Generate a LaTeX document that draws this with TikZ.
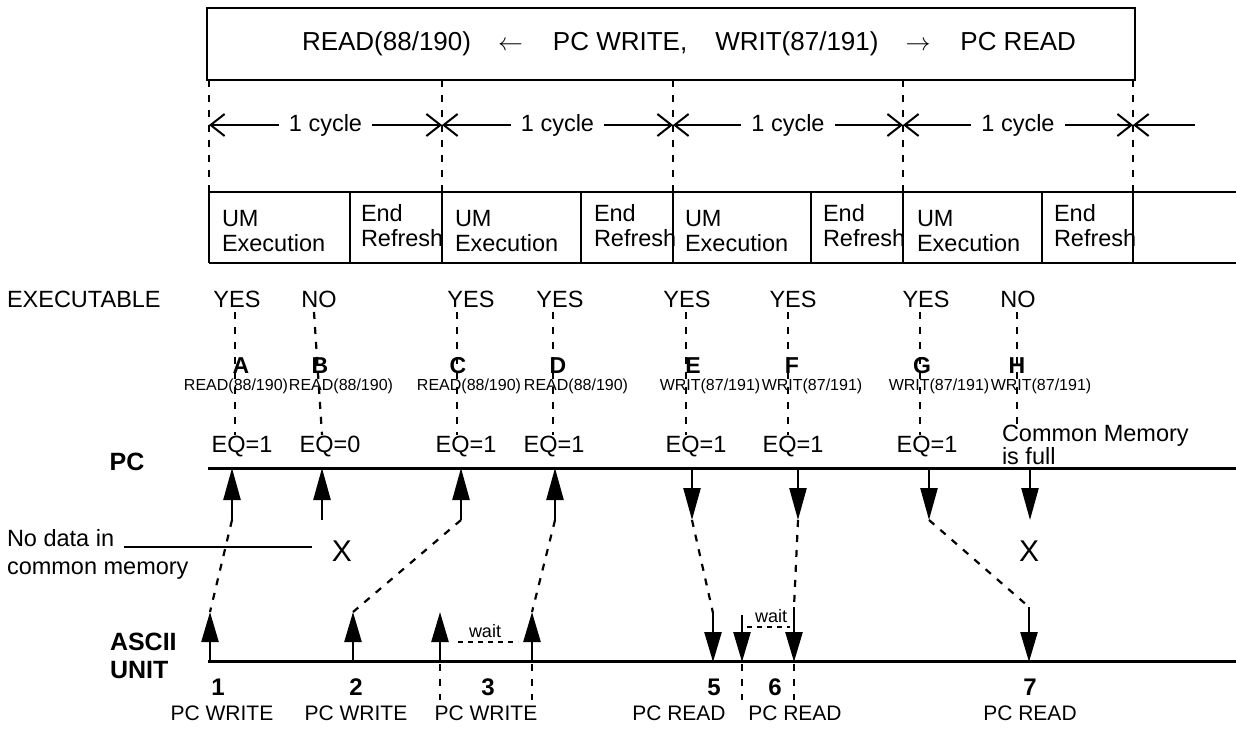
\documentclass[tikz,border=0pt]{standalone}
\usepackage{fontspec}
\setmainfont{Liberation Sans}
\usetikzlibrary{arrows.meta}
\begin{document}
\begin{tikzpicture}[x=1pt,y=-1pt,
  every node/.style={inner sep=0pt, outer sep=0pt},
  txt/.style={font=\fontsize{23.5}{25}\selectfont},
  toptxt/.style={font=\fontsize{26}{28}\selectfont},
  sm/.style={font=\fontsize{16}{18}\selectfont},
  waittxt/.style={font=\fontsize{18}{20}\selectfont},
  letter/.style={font=\fontsize{23}{25}\selectfont\bfseries},
  num/.style={font=\fontsize{24}{26}\selectfont\bfseries},
  lbl/.style={font=\fontsize{25}{28}\selectfont\bfseries},
  btm/.style={font=\fontsize{21}{24}\selectfont},
  xmark/.style={font=\fontsize{30}{30}\selectfont},
  heavy/.style={line width=2.5pt},
  dsh/.style={line width=2.2pt, dash pattern=on 7pt off 8pt},
  wdsh/.style={line width=1.8pt, dash pattern=on 5pt off 5pt},
  cyc/.style={line width=2pt, {Straight Barb[length=14pt,width=22pt]}-{Straight Barb[length=14pt,width=22pt]}},
  cycl/.style={line width=2pt, {Straight Barb[length=14pt,width=22pt]}-},
  arr/.style={line width=2.5pt, -{Triangle[length=32pt,width=17pt]}},
  aarr/.style={line width=2.5pt, -{Triangle[length=30pt,width=17pt]}},
]
\useasboundingbox (0,0) rectangle (1236,728);

% top box
\node[draw, line width=2.5pt, anchor=north west, minimum width=928pt, minimum height=72pt] (box) at (207,8) {};
\node[toptxt, anchor=west] (boxtxt) at (302,44) {READ(88/190)\hspace{27pt}$\leftarrow$\hspace{30pt}PC WRITE,\hspace{28pt}WRIT(87/191)\hspace{27pt}$\rightarrow$\hspace{30pt}PC READ};

% cycle boundaries
\foreach \i/\x in {0/209,1/442,2/673,3/903,4/1133}{
  \coordinate (t\i) at (\x,80);
  \coordinate (b\i) at (\x,187);
  \coordinate (c\i) at (\x,125);
  \draw[dsh] (t\i) -- (b\i);
}
\coordinate (c5) at (1195,125);
\foreach \i/\j in {0/1,1/2,2/3,3/4}{
  \draw[cyc] (c\i) -- node[txt, fill=white, inner xsep=10pt, inner ysep=2pt] {1 cycle} (c\j);
}
\draw[cycl] (c4) -- (c5);

% table
\draw[heavy] (209,192) -- (1236,192);
\draw[heavy] (209,263) -- (1236,263);
\foreach \x in {209,442,673,903,1133}{ \draw[heavy] (\x,187) -- (\x,263); }
\foreach \x in {350,581,811,1042}{ \draw[heavy] (\x,192) -- (\x,263); }
\foreach \x in {222,455,685,917}{
  \node[txt, anchor=west, align=left] at (\x,231) {UM\\Execution};
}
\foreach \x in {361,594,823,1054}{
  \node[txt, anchor=west, align=left] at (\x,226) {End\\Refresh};
}

% executable row
\node[txt, anchor=west] (exe) at (7,299) {EXECUTABLE};
\foreach \n/\lu/\ll/\yx/\yt/\lx/\lb/\bx/\ex/\et in {
  A/235/235/237/YES/241/READ(88\slash 190)/236/242/EQ=1,
  B/314/322/319/NO/320/READ(88\slash 190)/341/330/EQ=0,
  C/457/457/471/YES/458/READ(88\slash 190)/469/466/EQ=1,
  D/553/553/560/YES/558/READ(88\slash 190)/576/554/EQ=1,
  E/686/686/687/YES/693/WRIT(87\slash 191)/710/696/EQ=1,
  F/788/788/793/YES/792/WRIT(87\slash 191)/812/793/EQ=1,
  G/920/920/926/YES/922/WRIT(87\slash 191)/939/927/EQ=1}{
  \coordinate (u\n) at (\lu,312);
  \coordinate (l\n) at (\ll,435);
  \draw[dsh] (u\n) -- (l\n);
  \node[txt] (y\n) at (\yx,299) {\yt};
  \node[letter] (L\n) at (\lx,366) {\n};
  \node[sm] (R\n) at (\bx,386) {\lb};
  \node[txt] (Q\n) at (\ex,447) {\et};
}
\coordinate (uH) at (1017,312);
\coordinate (lH) at (1017,432);
\draw[dsh] (uH) -- (lH);
\node[txt] (yH) at (1018,299) {NO};
\node[letter] (LH) at (1017,366) {H};
\node[sm] (RH) at (1041,386) {WRIT(87/191)};
\node[txt, anchor=west, align=left, font=\fontsize{23.5}{21}\selectfont] (cmf) at (1002,445) {Common Memory\\is full};

% PC line
\node[lbl] (pc) at (127,462) {PC};
\coordinate (pcL) at (208,468);
\coordinate (pcR) at (1236,468);
\draw[line width=3pt] (pcL) -- (pcR);

% ASCII line
\node[lbl, anchor=west, align=left, font=\fontsize{25}{28}\selectfont\bfseries] (ascii) at (110,656) {ASCII\\UNIT};
\coordinate (asL) at (208,661);
\coordinate (asR) at (1236,661);
\draw[line width=3pt] (asL) -- (asR);

% PC side arrows (up: A-D)
\foreach \n/\x in {A/232,B/322,C/461,D/555}{
  \coordinate (pa\n) at (\x,468);
  \coordinate (ps\n) at (\x,520);
  \draw[arr] (ps\n) -- (pa\n);
}
% PC side arrows (down: E-H)
\foreach \n/\x in {E/692,F/798,G/929,H/1030}{
  \coordinate (pa\n) at (\x,468);
  \coordinate (ps\n) at (\x,520);
  \draw[arr] (pa\n) -- (ps\n);
}

% ASCII arrows up
\foreach \n/\x in {1/210,2/353,3a/440,3b/532}{
  \coordinate (at\n) at (\x,612);
  \coordinate (ab\n) at (\x,661);
  \draw[aarr] (ab\n) -- (at\n);
}
% ASCII arrows down
\foreach \n/\x/\y in {5/713/613,6a/742/615,6b/794/607,7/1029/607}{
  \coordinate (at\n) at (\x,\y);
  \coordinate (ab\n) at (\x,662);
  \draw[aarr] (at\n) -- (ab\n);
}

% dashed transfers
\draw[dsh] (psA) -- (at1);
\draw[dsh] (psC) -- (at2);
\draw[dsh] (psD) -- (at3b);
\draw[dsh] (psE) -- (at5);
\draw[dsh] (psF) -- (at6b);
\draw[dsh] (psG) -- (at7);

% dashed below ASCII line
\foreach \x in {440,532,742,794}{
  \coordinate (dt\x) at (\x,664);
  \coordinate (db\x) at (\x,700);
  \draw[dsh] (dt\x) -- (db\x);
}

% wait
\coordinate (w1a) at (458,642); \coordinate (w1b) at (518,642);
\draw[wdsh] (w1a) -- (w1b);
\node[waittxt] (wait1) at (485,631) {wait};
\coordinate (w2a) at (747,627); \coordinate (w2b) at (790,627);
\draw[wdsh] (w2a) -- (w2b);
\node[waittxt] (wait2) at (771,616) {wait};

% X marks and no-data note
\node[xmark] (x1) at (342,551) {X};
\node[xmark] (x2) at (1029,551) {X};
\node[txt, anchor=west, align=left, font=\fontsize{23.5}{28}\selectfont] (nodata) at (7,554) {No data in\\common memory};
\coordinate (ndL) at (124,547);
\coordinate (ndR) at (312,547);
\draw[line width=2pt] (ndL) -- (ndR);

% bottom labels
\node[num] (n1) at (218,687) {1};
\node[num] (n2) at (356,687) {2};
\node[num] (n3) at (488,687) {3};
\node[num] (n5) at (714,687) {5};
\node[num] (n6) at (775,687) {6};
\node[num] (n7) at (1030,687) {7};
\node[btm] (s1) at (222,713) {PC WRITE};
\node[btm] (s2) at (356,713) {PC WRITE};
\node[btm] (s3) at (486,713) {PC WRITE};
\node[btm] (s5) at (679,713) {PC READ};
\node[btm] (s6) at (795,713) {PC READ};
\node[btm] (s7) at (1030,713) {PC READ};
\end{tikzpicture}
\end{document}
